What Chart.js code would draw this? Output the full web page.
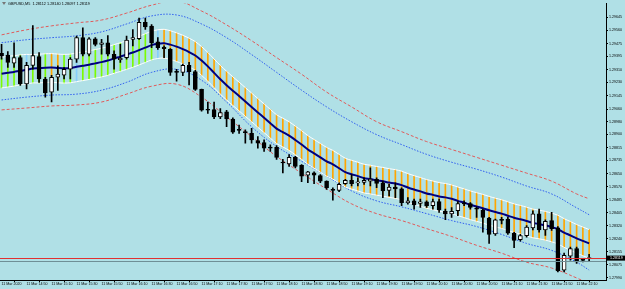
<!DOCTYPE html>
<html>
<head>
<meta charset="utf-8">
<script src="https://cdn.jsdelivr.net/npm/chart.js@4.4.1/dist/chart.umd.min.js"></script>
<style>
html, body { margin: 0; padding: 0; background: #b0e0e6; }
</style>
</head>
<body>
<canvas id="myChart" width="625" height="289"></canvas>
<script>
// GBPUSD M5 candles, 11 Mar 2020 14:30 .. 22:20

var titleText = 'GBPUSD,M5  1.28112 1.28140 1.28097 1.28119';

var timeLabels = ['11 Mar 2020', '11 Mar 14:50', '11 Mar 15:10', '11 Mar 15:30', '11 Mar 15:50', '11 Mar 16:10',
    '11 Mar 16:30', '11 Mar 16:50', '11 Mar 17:10', '11 Mar 17:30', '11 Mar 17:50', '11 Mar 18:10',
    '11 Mar 18:30', '11 Mar 18:50', '11 Mar 19:10', '11 Mar 19:30', '11 Mar 19:50', '11 Mar 20:10',
    '11 Mar 20:30', '11 Mar 20:50', '11 Mar 21:10', '11 Mar 21:30', '11 Mar 21:50', '11 Mar 22:10'];

var priceTicks = ['1.29645', '1.29560', '1.29475', '1.29395', '1.29310', '1.29230', '1.29145', '1.29060',
    '1.28980', '1.28900', '1.28815', '1.28735', '1.28650', '1.28570', '1.28485', '1.28405', '1.28320',
    '1.28240', '1.28155', '1.28075', '1.27990'];

var openP = [1.29415, 1.29403, 1.29352, 1.29388, 1.29221, 1.29338, 1.29394, 1.29252, 1.29169, 1.29263,
    1.29277, 1.29315, 1.29378, 1.29514, 1.29409, 1.29507, 1.29472, 1.29482, 1.29409, 1.29374,
    1.29388, 1.29503, 1.29507, 1.29612, 1.29587, 1.29487, 1.29455, 1.29440, 1.29299, 1.29294,
    1.29338, 1.29299, 1.29186, 1.29058, 1.29058, 1.29012, 1.29043, 1.28998, 1.28929, 1.28916,
    1.28907, 1.28862, 1.28849, 1.28816, 1.28818, 1.28720, 1.28713, 1.28755, 1.28705, 1.28642,
    1.28656, 1.28640, 1.28604, 1.28552, 1.28546, 1.28588, 1.28609, 1.28592, 1.28596, 1.28604,
    1.28615, 1.28594, 1.28546, 1.28567, 1.28556, 1.28466, 1.28479, 1.28462, 1.28473, 1.28448,
    1.28475, 1.28412, 1.28396, 1.28416, 1.28462, 1.28462, 1.28433, 1.28421, 1.28370, 1.28270,
    1.28358, 1.28364, 1.28274, 1.28233, 1.28258, 1.28308, 1.28396, 1.28295, 1.28354, 1.28308,
    1.28040, 1.28128, 1.28176, 1.28103, 1.28112];

var highP = [1.29472, 1.29426, 1.29482, 1.29399, 1.29357, 1.29591, 1.29419, 1.29263, 1.29275, 1.29336,
    1.29325, 1.29388, 1.29524, 1.29576, 1.29514, 1.29514, 1.29503, 1.29528, 1.29430, 1.29472,
    1.29524, 1.29566, 1.29639, 1.29639, 1.29597, 1.29514, 1.29462, 1.29445, 1.29313, 1.29346,
    1.29357, 1.29307, 1.29188, 1.29106, 1.29106, 1.29064, 1.29054, 1.29006, 1.28960, 1.28929,
    1.28939, 1.28887, 1.28866, 1.28835, 1.28830, 1.28742, 1.28772, 1.28761, 1.28709, 1.28667,
    1.28663, 1.28646, 1.28606, 1.28562, 1.28594, 1.28615, 1.28646, 1.28625, 1.28625, 1.28688,
    1.28625, 1.28604, 1.28584, 1.28594, 1.28562, 1.28500, 1.28490, 1.28490, 1.28479, 1.28490,
    1.28490, 1.28427, 1.28437, 1.28475, 1.28479, 1.28468, 1.28441, 1.28427, 1.28374, 1.28364,
    1.28374, 1.28374, 1.28280, 1.28266, 1.28322, 1.28416, 1.28427, 1.28358, 1.28406, 1.28316,
    1.28147, 1.28186, 1.28186, 1.28113, 1.28140];

var lowP = [1.29378, 1.29325, 1.29325, 1.29211, 1.29189, 1.29315, 1.29231, 1.29137, 1.29106, 1.29179,
    1.29252, 1.29252, 1.29357, 1.29399, 1.29399, 1.29462, 1.29409, 1.29399, 1.29315, 1.29357,
    1.29378, 1.29462, 1.29503, 1.29566, 1.29451, 1.29440, 1.29388, 1.29275, 1.29238, 1.29273,
    1.29215, 1.29179, 1.29048, 1.29033, 1.29001, 1.29001, 1.28949, 1.28907, 1.28907, 1.28845,
    1.28845, 1.28813, 1.28792, 1.28792, 1.28742, 1.28656, 1.28698, 1.28688, 1.28600, 1.28594,
    1.28588, 1.28594, 1.28552, 1.28483, 1.28537, 1.28584, 1.28573, 1.28573, 1.28584, 1.28573,
    1.28562, 1.28500, 1.28510, 1.28500, 1.28448, 1.28458, 1.28427, 1.28437, 1.28437, 1.28427,
    1.28406, 1.28360, 1.28374, 1.28385, 1.28448, 1.28427, 1.28374, 1.28280, 1.28209, 1.28260,
    1.28333, 1.28266, 1.28182, 1.28224, 1.28249, 1.28295, 1.28280, 1.28260, 1.28291, 1.28028,
    1.28028, 1.28103, 1.28082, 1.28092, 1.28097];

var closeP = [1.29399, 1.29357, 1.29388, 1.29221, 1.29338, 1.29401, 1.29252, 1.29164, 1.29263, 1.29283,
    1.29313, 1.29378, 1.29514, 1.29409, 1.29507, 1.29472, 1.29482, 1.29409, 1.29378, 1.29384,
    1.29499, 1.29514, 1.29612, 1.29583, 1.29482, 1.29451, 1.29445, 1.29294, 1.29294, 1.29338,
    1.29299, 1.29186, 1.29054, 1.29054, 1.29012, 1.29039, 1.28998, 1.28914, 1.28926, 1.28912,
    1.28866, 1.28845, 1.28813, 1.28813, 1.28755, 1.28719, 1.28755, 1.28698, 1.28636, 1.28663,
    1.28642, 1.28604, 1.28562, 1.28546, 1.28584, 1.28609, 1.28588, 1.28600, 1.28609, 1.28617,
    1.28590, 1.28542, 1.28567, 1.28554, 1.28468, 1.28479, 1.28454, 1.28473, 1.28448, 1.28475,
    1.28421, 1.28396, 1.28412, 1.28462, 1.28460, 1.28437, 1.28427, 1.28374, 1.28266, 1.28358,
    1.28355, 1.28274, 1.28228, 1.28258, 1.28312, 1.28396, 1.28295, 1.28349, 1.28302, 1.28034,
    1.28134, 1.28176, 1.28092, 1.28101, 1.28119];

// moving average (navy line)
var maLine = [1.29285, 1.29291, 1.29297, 1.29304, 1.29310, 1.29319, 1.29321, 1.29324, 1.29325, 1.29322,
    1.29320, 1.29322, 1.29329, 1.29336, 1.29343, 1.29351, 1.29359, 1.29369, 1.29382, 1.29394,
    1.29407, 1.29420, 1.29435, 1.29451, 1.29467, 1.29476, 1.29479, 1.29470, 1.29457, 1.29441,
    1.29423, 1.29401, 1.29369, 1.29332, 1.29291, 1.29250, 1.29213, 1.29178, 1.29144, 1.29109,
    1.29075, 1.29040, 1.29006, 1.28971, 1.28937, 1.28915, 1.28893, 1.28865, 1.28836, 1.28805,
    1.28780, 1.28755, 1.28730, 1.28711, 1.28686, 1.28661, 1.28648, 1.28636, 1.28623, 1.28617,
    1.28609, 1.28603, 1.28595, 1.28589, 1.28579, 1.28564, 1.28551, 1.28539, 1.28526, 1.28517,
    1.28507, 1.28501, 1.28492, 1.28479, 1.28467, 1.28454, 1.28443, 1.28432, 1.28419, 1.28408,
    1.28398, 1.28385, 1.28372, 1.28362, 1.28351, 1.28339, 1.28332, 1.28324, 1.28313, 1.28300,
    1.28278, 1.28260, 1.28241, 1.28225, 1.28209];

// inner channel (white lines + histogram)
var innerUpper = [1.29390, 1.29396, 1.29400, 1.29405, 1.29408, 1.29407, 1.29409, 1.29412, 1.29413, 1.29410,
    1.29408, 1.29410, 1.29417, 1.29424, 1.29431, 1.29439, 1.29447, 1.29457, 1.29470, 1.29482,
    1.29495, 1.29508, 1.29523, 1.29539, 1.29555, 1.29564, 1.29567, 1.29558, 1.29545, 1.29529,
    1.29511, 1.29489, 1.29457, 1.29420, 1.29379, 1.29338, 1.29301, 1.29266, 1.29232, 1.29197,
    1.29163, 1.29128, 1.29094, 1.29059, 1.29025, 1.29003, 1.28981, 1.28953, 1.28924, 1.28893,
    1.28868, 1.28843, 1.28818, 1.28799, 1.28774, 1.28749, 1.28736, 1.28724, 1.28711, 1.28705,
    1.28697, 1.28691, 1.28683, 1.28677, 1.28667, 1.28652, 1.28639, 1.28627, 1.28614, 1.28605,
    1.28595, 1.28589, 1.28580, 1.28567, 1.28555, 1.28542, 1.28531, 1.28520, 1.28507, 1.28496,
    1.28486, 1.28473, 1.28460, 1.28450, 1.28439, 1.28427, 1.28420, 1.28412, 1.28401, 1.28388,
    1.28366, 1.28348, 1.28329, 1.28313, 1.28297];

var innerLower = [1.29195, 1.29201, 1.29207, 1.29214, 1.29220, 1.29227, 1.29227, 1.29230, 1.29231, 1.29228,
    1.29226, 1.29228, 1.29235, 1.29242, 1.29249, 1.29257, 1.29265, 1.29275, 1.29288, 1.29300,
    1.29313, 1.29326, 1.29341, 1.29357, 1.29373, 1.29382, 1.29385, 1.29376, 1.29363, 1.29347,
    1.29329, 1.29307, 1.29275, 1.29238, 1.29197, 1.29156, 1.29119, 1.29084, 1.29050, 1.29015,
    1.28981, 1.28946, 1.28912, 1.28877, 1.28843, 1.28821, 1.28799, 1.28771, 1.28742, 1.28711,
    1.28686, 1.28661, 1.28636, 1.28617, 1.28592, 1.28567, 1.28554, 1.28542, 1.28529, 1.28523,
    1.28515, 1.28509, 1.28501, 1.28495, 1.28485, 1.28470, 1.28457, 1.28445, 1.28432, 1.28423,
    1.28413, 1.28407, 1.28398, 1.28385, 1.28373, 1.28360, 1.28349, 1.28338, 1.28325, 1.28314,
    1.28304, 1.28291, 1.28278, 1.28268, 1.28257, 1.28245, 1.28238, 1.28230, 1.28219, 1.28206,
    1.28184, 1.28166, 1.28147, 1.28131, 1.28115];

// histogram state per bar: u = up, d = down, n = flat
var trendState = 'uuuunuuudduunuuuuuuuuuuuunddddddddddddddddddddddddddddddddddddddddddddddddddddddddddddddddddddd';

// outer bands, read every 4 bars
var bandBars = [0, 4, 8, 12, 16, 20, 24, 28, 32, 36, 40, 44, 48, 52, 56, 60, 64, 68, 72, 76, 80, 84, 88, 92, 94];
var blueUpper = [1.29482, 1.29501, 1.29514, 1.29526, 1.29551, 1.29601, 1.29652, 1.29658, 1.29601, 1.29514,
    1.29407, 1.29294, 1.29181, 1.29075, 1.28981, 1.28899, 1.28836, 1.28774, 1.28724, 1.28680,
    1.28630, 1.28573, 1.28523, 1.28435, 1.28391];
var blueLower = [1.29119, 1.29137, 1.29150, 1.29156, 1.29181, 1.29231, 1.29294, 1.29313, 1.29244, 1.29106,
    1.28949, 1.28824, 1.28730, 1.28636, 1.28542, 1.28479, 1.28441, 1.28398, 1.28354, 1.28316,
    1.28266, 1.28209, 1.28165, 1.28090, 1.28040];
var redUpper = [1.29532, 1.29564, 1.29589, 1.29608, 1.29626, 1.29670, 1.29720, 1.29746, 1.29683, 1.29595,
    1.29495, 1.29388, 1.29282, 1.29169, 1.29075, 1.28981, 1.28918, 1.28855, 1.28805, 1.28755,
    1.28705, 1.28655, 1.28604, 1.28523, 1.28492];
var redLower = [1.29056, 1.29068, 1.29081, 1.29087, 1.29106, 1.29156, 1.29206, 1.29219, 1.29137, 1.29012,
    1.28887, 1.28761, 1.28655, 1.28554, 1.28460, 1.28398, 1.28354, 1.28303, 1.28253, 1.28197,
    1.28147, 1.28090, 1.28053, 1.27990, 1.27952];

var bidPrice = 1.28119;
var grayLinePrice = 1.28100;

var bgColor = '#b0e0e6';
var tickFont = { family: 'Liberation Sans', size: 3.6 };

function pts(xsArr, ysArr) {
    return ysArr.map(function (v, k) { return { x: xsArr[k], y: v }; });
}
var barIdx = openP.map(function (v, i) { return i; });

var histColors = { u: '#7cfc00', d: '#ffa500', n: '#87cefa' };

var ctx = document.getElementById('myChart').getContext('2d');

var mtPlugin = {
    id: 'mtPlugin',
    beforeDraw: function (chart) {
        var c = chart.ctx;
        c.save();
        c.fillStyle = bgColor;
        c.fillRect(0, 0, chart.width, chart.height);
        c.restore();
    },
    afterDatasetsDraw: function (chart) {
        var c = chart.ctx;
        var a = chart.chartArea;
        var ys = chart.scales.y;
        c.save();
        // gray line and bid line
        var gy = Math.round(ys.getPixelForValue(grayLinePrice)) + 0.5;
        c.strokeStyle = '#6f8f96';
        c.lineWidth = 1;
        c.beginPath(); c.moveTo(a.left, gy); c.lineTo(a.right, gy); c.stroke();
        var by = Math.round(ys.getPixelForValue(bidPrice)) + 0.5;
        c.strokeStyle = '#e03030';
        c.beginPath(); c.moveTo(a.left, by); c.lineTo(a.right, by); c.stroke();
        c.restore();
    },
    afterDraw: function (chart) {
        var c = chart.ctx;
        var a = chart.chartArea;
        var ys = chart.scales.y;
        c.save();
        // price box
        var by = ys.getPixelForValue(bidPrice);
        c.fillStyle = '#000';
        c.fillRect(a.right + 1, by - 2, chart.width - a.right - 1, 5);
        c.fillStyle = '#fff';
        c.font = '3.6px "Liberation Sans"';
        c.textBaseline = 'middle';
        c.fillText(bidPrice.toFixed(5), a.right + 4, by + 0.5);
        // title
        c.fillStyle = '#777';
        c.beginPath(); c.moveTo(2, 2); c.lineTo(6, 2); c.lineTo(4, 5); c.closePath(); c.fill();
        c.fillStyle = '#000';
        c.font = '3.8px "Liberation Sans"';
        c.fillText(titleText, 8, 4);
        c.restore();
    }
};

var chartData = {
    datasets: [
        {
            type: 'bar', label: 'body', order: 0, grouped: false,
            data: barIdx.map(function (i) { return { x: i, y: [openP[i], closeP[i]] }; }),
            backgroundColor: barIdx.map(function (i) { return closeP[i] > openP[i] ? '#ffffff' : '#000000'; }),
            borderColor: '#000000', borderWidth: 1, borderSkipped: false,
            barThickness: 4, minBarLength: 1
        },
        {
            type: 'bar', label: 'wick', order: 1, grouped: false,
            data: barIdx.map(function (i) { return { x: i, y: [lowP[i], highP[i]] }; }),
            backgroundColor: '#000000', barThickness: 1
        },
        {
            type: 'line', label: 'MA', order: 2,
            data: pts(barIdx, maLine),
            borderColor: '#000080', borderWidth: 2, pointRadius: 0, tension: 0.3
        },
        {
            type: 'line', label: 'upper', order: 3,
            data: pts(barIdx, innerUpper),
            borderColor: '#ffffff', borderWidth: 1, pointRadius: 0, tension: 0.3
        },
        {
            type: 'line', label: 'lower', order: 3,
            data: pts(barIdx, innerLower),
            borderColor: '#ffffff', borderWidth: 1, pointRadius: 0, tension: 0.3
        },
        {
            type: 'line', label: 'blueUp', order: 4,
            data: pts(bandBars, blueUpper),
            borderColor: '#2f5ef0', borderWidth: 1, borderDash: [1.5, 1.5], pointRadius: 0, tension: 0.4
        },
        {
            type: 'line', label: 'blueLo', order: 4,
            data: pts(bandBars, blueLower),
            borderColor: '#2f5ef0', borderWidth: 1, borderDash: [1.5, 1.5], pointRadius: 0, tension: 0.4
        },
        {
            type: 'line', label: 'redUp', order: 4,
            data: pts(bandBars, redUpper),
            borderColor: '#e05a5a', borderWidth: 1, borderDash: [3, 2], pointRadius: 0, tension: 0.4
        },
        {
            type: 'line', label: 'redLo', order: 4,
            data: pts(bandBars, redLower),
            borderColor: '#e05a5a', borderWidth: 1, borderDash: [3, 2], pointRadius: 0, tension: 0.4
        },
        {
            type: 'bar', label: 'hist', order: 5, grouped: false,
            data: barIdx.map(function (i) { return { x: i, y: [innerLower[i], innerUpper[i]] }; }),
            backgroundColor: barIdx.map(function (i) { return histColors[trendState[i]]; }),
            barThickness: 1
        }
    ]
};

var myChart = new Chart(ctx, {
    type: 'bar',
    data: chartData,
    plugins: [mtPlugin],
    options: {
        responsive: false,
        devicePixelRatio: 1,
        animation: false,
        layout: { padding: 0 },
        plugins: { legend: { display: false }, tooltip: { enabled: false } },
        scales: {
            x: {
                type: 'linear', position: 'bottom', offset: false,
                min: -0.25, max: 96.7,
                afterBuildTicks: function (scale) {
                    scale.ticks = timeLabels.map(function (t, k) { return { value: k * 4 }; });
                },
                afterFit: function (scale) { scale.height = 9; },
                grid: { display: true, drawOnChartArea: false, drawTicks: true, tickLength: 2, color: '#000' },
                border: { display: true, color: '#000', width: 1 },
                ticks: {
                    font: tickFont, color: '#000', padding: 0, align: 'start',
                    maxRotation: 0, autoSkip: false,
                    callback: function (v, idx) { return timeLabels[idx]; }
                }
            },
            y: {
                type: 'linear', position: 'right',
                min: 1.27977, max: 1.29733,
                afterBuildTicks: function (scale) {
                    scale.ticks = priceTicks.map(function (t) { return { value: parseFloat(t) }; });
                },
                afterFit: function (scale) { scale.width = 19; },
                grid: { display: true, drawOnChartArea: false, drawTicks: true, tickLength: 2, color: '#000' },
                border: { display: true, color: '#000', width: 1 },
                ticks: {
                    font: tickFont, color: '#000', padding: 1,
                    callback: function (v, idx) { return priceTicks[idx]; }
                }
            }
        }
    }
});
</script>
</body>
</html>
